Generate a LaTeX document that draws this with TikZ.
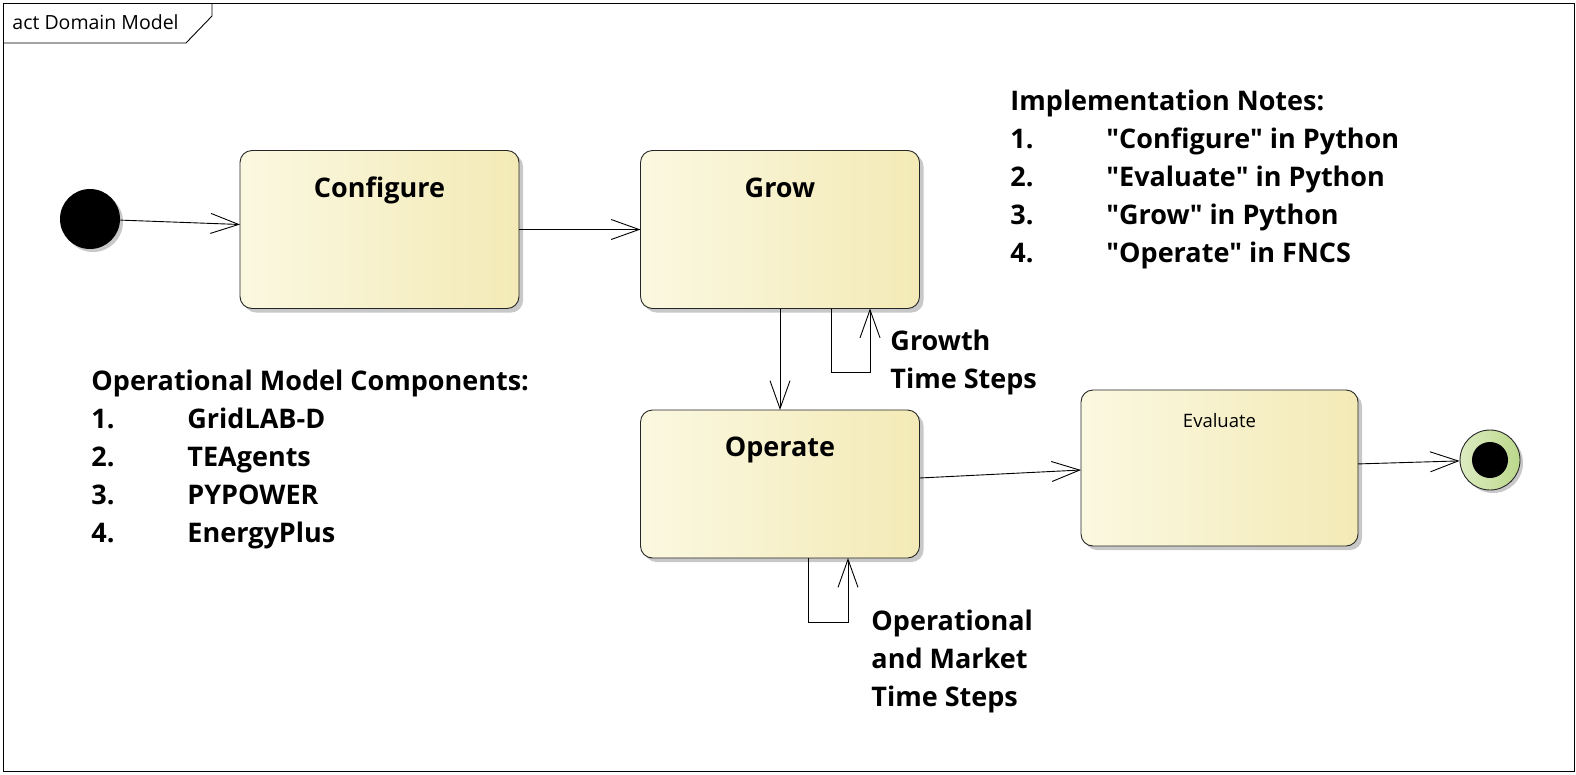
\documentclass[tikz,border=0pt]{standalone}
\usepackage{fontspec}
\setmainfont{Open Sans}
\usepackage{tikz}
\usetikzlibrary{arrows.meta,positioning,shadows}

\definecolor{actlight}{HTML}{FBF8E1}
\definecolor{actdark}{HTML}{F3EAB6}
\definecolor{endlight}{HTML}{DCEBC0}
\definecolor{enddark}{HTML}{BBD88C}
\definecolor{shadowgray}{HTML}{C8C8C8}

\newcommand\listline[2]{\makebox[96pt][l]{#1}#2}
\newcommand\qq[1]{\textquotedbl#1\textquotedbl}

\begin{document}
\begin{tikzpicture}[x=1pt,y=-1pt,line width=0.9pt,
	act/.style={draw=black!85,rounded corners=12pt,left color=actlight,right color=actdark,
		minimum width=279pt,minimum height=158pt,inner sep=0pt,outer sep=0pt,
		drop shadow={shadow xshift=4pt,shadow yshift=-4pt,fill=shadowgray,opacity=1}},
	acttitle/.style={font=\fontsize{27}{32}\selectfont\bfseries,anchor=base,inner sep=0pt},
	flow/.style={-{Straight Barb[length=28pt,width=20pt]}},
	note/.style={font=\fontsize{27}{38}\selectfont\bfseries,align=left,anchor=north west,inner sep=0pt}]
		\useasboundingbox[fill=white] (0,0) rectangle (1576,774);

		% frame
		\draw (3,3) rectangle (1574,771);
		\draw (3,43) -- (186,43) -- (212,16) -- (212,3);
		\node[anchor=base west,inner sep=0pt,font=\fontsize{19.5}{22}\selectfont] (frameLbl) at (12,29) {act Domain Model};

		% states
		\node[circle,fill=black,minimum size=60pt,inner sep=0pt,
			drop shadow={shadow xshift=3pt,shadow yshift=-3pt,fill=shadowgray,opacity=1}] (init) at (90,219) {};
		\node[act] (conf) at (379.5,229.5) {};
		\node[act] (grow) at (780,229.5) {};
		\node[act,minimum height=148pt] (oper) at (780,484) {};
		\node[act,minimum width=277pt,minimum height=156pt] (eval) at (1219.5,468) {};
		\node[circle,draw=black!85,left color=endlight,right color=enddark,minimum size=60pt,inner sep=0pt,
			drop shadow={shadow xshift=3pt,shadow yshift=-3pt,fill=shadowgray,opacity=1}] (fin) at (1490,460) {};
		\node[circle,fill=black,minimum size=36pt,inner sep=0pt] (finDot) at (fin) {};

		\node[acttitle] (confT) at ([yshift=-47pt]conf.north) {Configure};
		\node[acttitle] (growT) at ([yshift=-47pt]grow.north) {Grow};
		\node[acttitle] (operT) at ([yshift=-46pt]oper.north) {Operate};
		\node[acttitle,font=\fontsize{18.5}{22}\selectfont] (evalT) at ([yshift=-37pt]eval.north) {Evaluate};

		% transitions
		\draw[flow] (init) -- ([yshift=5pt]conf.west);
		\draw[flow] (conf) -- (grow);
		\draw[flow] (grow) -- (oper);
		\draw[flow] ([xshift=51pt]grow.south) -- ++(0,64) -| ([xshift=90pt]grow.south);
		\draw[flow] ([xshift=28pt]oper.south) -- ++(0,64) -| ([xshift=68pt]oper.south);
		\draw[flow] ([yshift=6pt]oper.east) -- ([yshift=-2pt]eval.west);
		\draw[flow] (eval) -- (fin);

		% notes
		\node[note] (growLbl) at (890,330) {Growth\\Time Steps};
		\node[note] (operLbl) at (871,610) {Operational\\and Market\\Time Steps};
		\node[note] (implNotes) at (1010,90) {Implementation Notes:\\
			\listline{1.}{\qq{Configure} in Python}\\
			\listline{2.}{\qq{Evaluate} in Python}\\
			\listline{3.}{\qq{Grow} in Python}\\
			\listline{4.}{\qq{Operate} in FNCS}};
		\node[note] (opComps) at (91,370) {Operational Model Components:\\
			\listline{1.}{GridLAB-D}\\
			\listline{2.}{TEAgents}\\
			\listline{3.}{PYPOWER}\\
			\listline{4.}{EnergyPlus}};
	\end{tikzpicture}
\end{document}
